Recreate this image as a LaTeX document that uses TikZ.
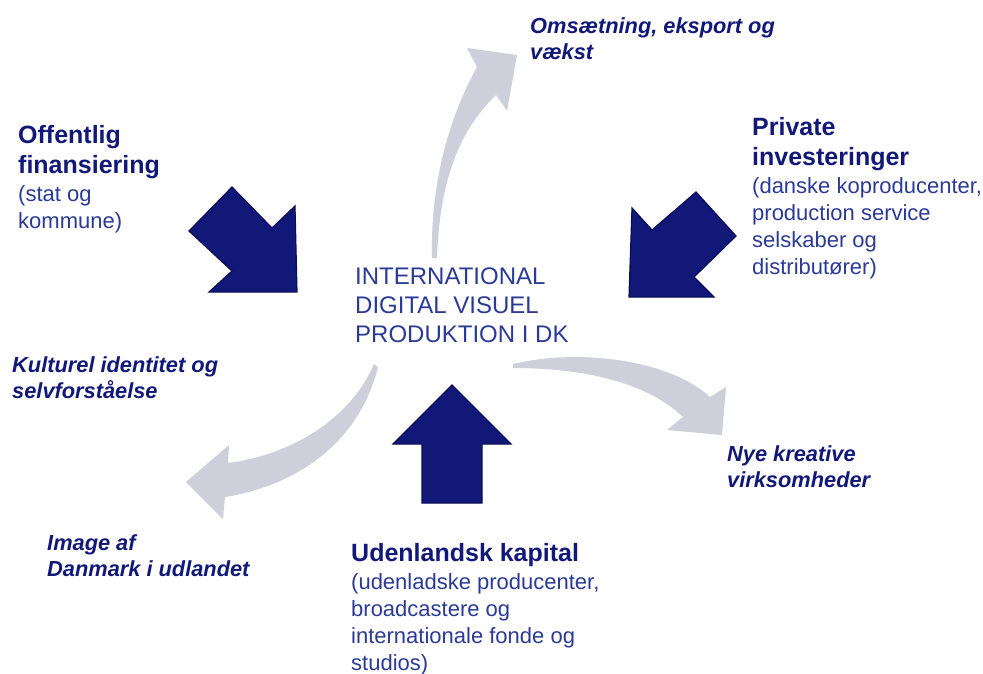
\documentclass[tikz,border=0pt]{standalone}
\usepackage{fontspec}
\setmainfont{Liberation Sans}
\usetikzlibrary{positioning}
\definecolor{navyblue}{RGB}{17,24,120}
\definecolor{navyedge}{RGB}{10,14,88}
\definecolor{textblue}{RGB}{42,58,150}
\definecolor{arrowgray}{RGB}{205,207,219}

\begin{document}
\begin{tikzpicture}[x=1pt,y=-1pt,
    blockarrow/.style={fill=navyblue, draw=navyedge, line width=1.2pt, line join=miter},
    curvearrow/.style={fill=arrowgray},
    heading/.style={anchor=north west, inner sep=0pt, align=left, text=navyblue,
        font=\fontsize{25}{30}\selectfont\bfseries},
    effect/.style={anchor=north west, inner sep=0pt, align=left, text=navyblue,
        font=\fontsize{21.8}{26}\selectfont\bfseries\itshape},
    detail/.style={anchor=north west, inner sep=0pt, align=left, text=textblue,
        font=\fontsize{22}{27}\selectfont},
    centretext/.style={anchor=north west, inner sep=0pt, align=left, text=textblue,
        font=\fontsize{24}{29}\selectfont}]
    \useasboundingbox (0,0) rectangle (983,673);

    % Gray effect arrows
    % up to turnover
    \fill[curvearrow] (432,258) .. controls (430,170) and (456,105) .. (477,67)
        -- (467,48) -- (517,55) -- (507,111) -- (496,95)
        .. controls (465,125) and (440,170) .. (437,258) -- cycle;
    % down-left to image abroad
    \fill[curvearrow] (374,364) .. controls (350,420) and (290,455) .. (228,463)
        -- (229,445) -- (186,482) -- (223,519) -- (225,497)
        .. controls (300,485) and (360,440) .. (378,367) -- cycle;
    % right to new companies
    \fill[curvearrow] (513,364) .. controls (580,348) and (670,360) .. (710,397)
        -- (726,387) -- (722,435) -- (667,430) -- (683,417)
        .. controls (650,385) and (590,368) .. (513,368) -- cycle;

    % Navy funding arrows
    \filldraw[blockarrow] (232,187) -- (272,228) -- (295,206) -- (297,292)
        -- (209,292) -- (232,271) -- (189,231) -- cycle;
    \filldraw[blockarrow] (696,192) -- (736,236) -- (694,277) -- (714,297)
        -- (629,297) -- (632,208) -- (652,230) -- cycle;
    \filldraw[blockarrow] (452,385) -- (511,444) -- (482,444) -- (482,503)
        -- (422,503) -- (422,444) -- (393,444) -- cycle;

    % Centre
    \node[centretext] (centre) at (355,268)
        {INTERNATIONAL\\DIGITAL VISUEL\\PRODUKTION I DK};

    % Sources
    \node[heading] (offtitle) at (18,125) {Offentlig\\finansiering};
    \node[detail, below=7pt of offtitle.south west, anchor=north west] (offbody)
        {(stat og\\kommune)};
    \node[heading] (privtitle) at (752,117) {Private\\investeringer};
    \node[detail, below=7pt of privtitle.south west, anchor=north west] (privbody)
        {(danske koproducenter,\\production service\\selskaber og\\distributører)};
    \node[heading] (udltitle) at (351,543) {Udenlandsk kapital};
    \node[detail, below=7pt of udltitle.south west, anchor=north west] (udlbody)
        {(udenladske producenter,\\broadcastere og\\internationale fonde og\\studios)};

    % Effects
    \node[effect] (omsaetning) at (530,17) {Omsætning, eksport og\\vækst};
    \node[effect] (kultur) at (12,356) {Kulturel identitet og\\selvforståelse};
    \node[effect] (nye) at (727,445) {Nye kreative\\virksomheder};
    \node[effect] (image) at (47,534) {Image af\\Danmark i udlandet};
\end{tikzpicture}
\end{document}
